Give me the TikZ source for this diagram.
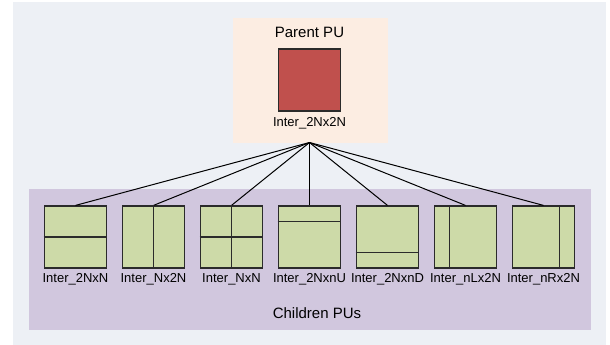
\documentclass[tikz,border=0pt]{standalone}
\usepackage{fontspec}
\setmainfont{Liberation Sans}
\usetikzlibrary{calc}
\definecolor{bgcol}{HTML}{EDF0F5}
\definecolor{peach}{HTML}{FCEDE2}
\definecolor{lavender}{HTML}{D1C7DE}
\definecolor{pured}{HTML}{C0504D}
\definecolor{pugreen}{HTML}{CDDAA8}
\definecolor{edge}{HTML}{2B2B2B}
\tikzset{
  pubox/.style={draw=edge, line width=1.2pt, minimum width=62.5pt, minimum height=62pt, inner sep=0pt},
  child/.style={pubox, fill=pugreen},
  split/.style={draw=edge, line width=1.2pt},
  link/.style={draw=black, line width=1pt},
  lbl/.style={font=\fontsize{13}{15}\selectfont, inner sep=0pt},
  title/.style={font=\fontsize{15}{17}\selectfont, inner sep=0pt}
}
\begin{document}
\begin{tikzpicture}[x=1pt,y=-1pt]
\useasboundingbox (0,0) rectangle (610,345);
% background panels
\fill[white] (0,0) rectangle (610,345);
\fill[bgcol] (13,2) rectangle (606,345);
\fill[peach] (233,18) rectangle (388,143);
\fill[lavender] (29,189) rectangle (591,330);

% parent PU
\node[title] (ptitle) at (309.5,32) {Parent PU};
\node[pubox, fill=pured] (parent) at (309.5,80) {};
\node[lbl] (plabel) at (309.5,123) {Inter\_2Nx2N};
\coordinate (apex) at (309.5,142.5);

% children PUs
\foreach \i/\name [evaluate=\i as \cx using 75.5+78*(\i-1)] in
  {1/Inter\_2NxN,2/Inter\_Nx2N,3/Inter\_NxN,4/Inter\_2NxnU,5/Inter\_2NxnD,6/Inter\_nLx2N,7/Inter\_nRx2N}{
  \node[child] (c\i) at (\cx,237) {};
  \node[lbl] (l\i) at (\cx,279) {\name};
  \draw[link] (apex) -- (c\i.north);
}

% partition lines inside the children
\draw[split] (c1.west) -- (c1.east);
\draw[split] (c2.north) -- (c2.south);
\draw[split] (c3.west) -- (c3.east);
\draw[split] (c3.north) -- (c3.south);
\draw[split] ($(c4.north west)!0.25!(c4.south west)$) -- ($(c4.north east)!0.25!(c4.south east)$);
\draw[split] ($(c5.north west)!0.75!(c5.south west)$) -- ($(c5.north east)!0.75!(c5.south east)$);
\draw[split] ($(c6.north west)!0.25!(c6.north east)$) -- ($(c6.south west)!0.25!(c6.south east)$);
\draw[split] ($(c7.north west)!0.75!(c7.north east)$) -- ($(c7.south west)!0.75!(c7.south east)$);

\node[title] (ctitle) at (317,313) {Children PUs};
\end{tikzpicture}
\end{document}
